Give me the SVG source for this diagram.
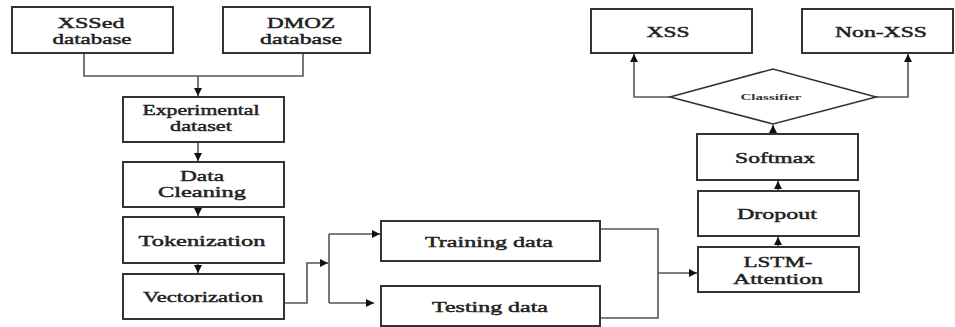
<svg xmlns="http://www.w3.org/2000/svg" width="955" height="327" viewBox="0 0 955 327">
  <defs>
    <style>
      .box { fill: #fff; stroke: #333; stroke-width: 2; }
      .wire { fill: none; stroke: #555; stroke-width: 1.6; }
      .lbl { font-family: "Liberation Serif", "Times New Roman", serif; font-size: 15px; font-weight: normal; fill: #222; stroke: #222; stroke-width: 0.45; text-anchor: middle; }
      .small { font-family: "Liberation Serif", "Times New Roman", serif; font-size: 9px; font-weight: bold; fill: #333; text-anchor: middle; }
    </style>
    <marker id="arr" viewBox="0 0 10 10" refX="10" refY="5" markerWidth="8" markerHeight="8" markerUnits="userSpaceOnUse" orient="auto">
      <path d="M0,0 L10,5 L0,10 z" fill="#111"/>
    </marker>
  </defs>

  <rect width="955" height="327" fill="#fff"/>

  <g id="connectors">
    <path class="wire" d="M84,53 V76 H303 V53"/>
    <path class="wire" marker-end="url(#arr)" d="M198,76 V96"/>
    <path class="wire" marker-end="url(#arr)" d="M198,142 V161"/>
    <path class="wire" marker-end="url(#arr)" d="M198,207 V216"/>
    <path class="wire" marker-end="url(#arr)" d="M198,263 V273"/>
    <path class="wire" marker-end="url(#arr)" d="M284,303 H307 V263 H328"/>
    <path class="wire" d="M329,234 V303"/>
    <path class="wire" marker-end="url(#arr)" d="M329,234 H380"/>
    <path class="wire" marker-end="url(#arr)" d="M329,303 H374"/>
    <path class="wire" d="M600,229 H658 V318 H601"/>
    <path class="wire" marker-end="url(#arr)" d="M658,273 H697"/>
    <path class="wire" marker-end="url(#arr)" d="M778,247 V237"/>
    <path class="wire" marker-end="url(#arr)" d="M778,191 V181"/>
    <path class="wire" marker-end="url(#arr)" d="M773,134 V125"/>
    <path class="wire" marker-end="url(#arr)" d="M670,97 H634 V54"/>
    <path class="wire" marker-end="url(#arr)" d="M876,97 H908 V54"/>
  </g>

  <g id="xssed">
    <rect class="box" x="12" y="7" width="161" height="46"/>
    <text class="lbl" x="91" y="28" textLength="67" lengthAdjust="spacingAndGlyphs">XSSed</text>
    <text class="lbl" x="92" y="44" textLength="79" lengthAdjust="spacingAndGlyphs">database</text>
  </g>
  <g id="dmoz">
    <rect class="box" x="223" y="7" width="147" height="46"/>
    <text class="lbl" x="301" y="28" textLength="68" lengthAdjust="spacingAndGlyphs">DMOZ</text>
    <text class="lbl" x="301" y="44" textLength="82" lengthAdjust="spacingAndGlyphs">database</text>
  </g>
  <g id="experimental">
    <rect class="box" x="123" y="97" width="161" height="45"/>
    <text class="lbl" x="201" y="115" textLength="117" lengthAdjust="spacingAndGlyphs">Experimental</text>
    <text class="lbl" x="201" y="131" textLength="62" lengthAdjust="spacingAndGlyphs">dataset</text>
  </g>
  <g id="cleaning">
    <rect class="box" x="123" y="162" width="161" height="45"/>
    <text class="lbl" x="202" y="181" textLength="44" lengthAdjust="spacingAndGlyphs">Data</text>
    <text class="lbl" x="202" y="197" textLength="88" lengthAdjust="spacingAndGlyphs">Cleaning</text>
  </g>
  <g id="tokenization">
    <rect class="box" x="123" y="217" width="161" height="46"/>
    <text class="lbl" x="202" y="246" textLength="127" lengthAdjust="spacingAndGlyphs">Tokenization</text>
  </g>
  <g id="vectorization">
    <rect class="box" x="123" y="274" width="161" height="45"/>
    <text class="lbl" x="203" y="302" textLength="120" lengthAdjust="spacingAndGlyphs">Vectorization</text>
  </g>
  <g id="training">
    <rect class="box" x="381" y="221" width="219" height="40"/>
    <text class="lbl" x="489" y="247" textLength="128" lengthAdjust="spacingAndGlyphs">Training data</text>
  </g>
  <g id="testing">
    <rect class="box" x="381" y="286" width="219" height="40"/>
    <text class="lbl" x="490" y="312" textLength="116" lengthAdjust="spacingAndGlyphs">Testing data</text>
  </g>
  <g id="lstm">
    <rect class="box" x="698" y="247" width="161" height="45"/>
    <text class="lbl" x="778" y="267" textLength="69" lengthAdjust="spacingAndGlyphs">LSTM-</text>
    <text class="lbl" x="778" y="284" textLength="90" lengthAdjust="spacingAndGlyphs">Attention</text>
  </g>
  <g id="dropout">
    <rect class="box" x="698" y="191" width="161" height="45"/>
    <text class="lbl" x="777" y="219" textLength="80" lengthAdjust="spacingAndGlyphs">Dropout</text>
  </g>
  <g id="softmax">
    <rect class="box" x="697" y="134" width="161" height="46"/>
    <text class="lbl" x="775" y="163" textLength="80" lengthAdjust="spacingAndGlyphs">Softmax</text>
  </g>
  <g id="classifier">
    <polygon fill="#fff" stroke="#333" stroke-width="1.6" points="670,97 773,69 876,97 773,124"/>
    <text class="small" x="771" y="100" textLength="61" lengthAdjust="spacingAndGlyphs">Classifier</text>
  </g>
  <g id="xss">
    <rect class="box" x="591" y="9" width="161" height="44"/>
    <text class="lbl" x="668" y="37" textLength="43" lengthAdjust="spacingAndGlyphs">XSS</text>
  </g>
  <g id="nonxss">
    <rect class="box" x="802" y="9" width="151" height="44"/>
    <text class="lbl" x="881" y="37" textLength="92" lengthAdjust="spacingAndGlyphs">Non-XSS</text>
  </g>
</svg>
